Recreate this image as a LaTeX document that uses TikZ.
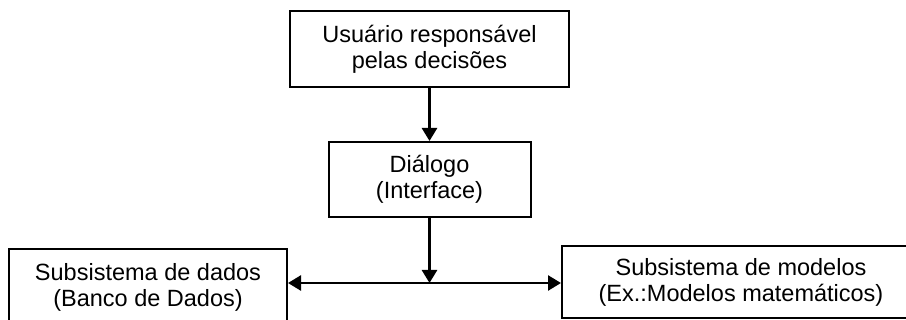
\documentclass[tikz,border=0pt]{standalone}
\usepackage{fontspec}
\setmainfont{Liberation Sans}
\usetikzlibrary{arrows.meta,positioning}

\begin{document}
\begin{tikzpicture}[
  x=1pt, y=-1pt,
  font=\fontsize{23.5}{26}\selectfont,
  box/.style={draw, line width=2pt, align=center, inner sep=0pt},
  link/.style={line width=2.6pt, -{Triangle[length=13pt,width=15pt]}}
]
\useasboundingbox (0,0) rectangle (906,320);
\clip (0,0) rectangle (906,320);

\node[box, minimum width=279pt, minimum height=76pt] (user) at (429.5,49) {Usuário responsável\\pelas decisões};
\node[box, minimum width=202pt, minimum height=75pt, below=53pt of user] (dialog) {Diálogo\\(Interface)};
\node[box, minimum width=278pt, minimum height=76pt] (data) at (148,287) {Subsistema de dados\\(Banco de Dados)};
\node[box, minimum width=358pt, minimum height=72pt] (models) at (741,282) {Subsistema de modelos\\(Ex.:Modelos matemáticos)};

\coordinate (junc) at (dialog.south |- 0,283);

\draw[link] (user) -- (dialog);
\draw[link] (dialog.south) -- (junc);
\draw[link] (junc) -- (data.east |- junc);
\draw[link] (junc) -- (models.west |- junc);

\end{tikzpicture}
\end{document}
